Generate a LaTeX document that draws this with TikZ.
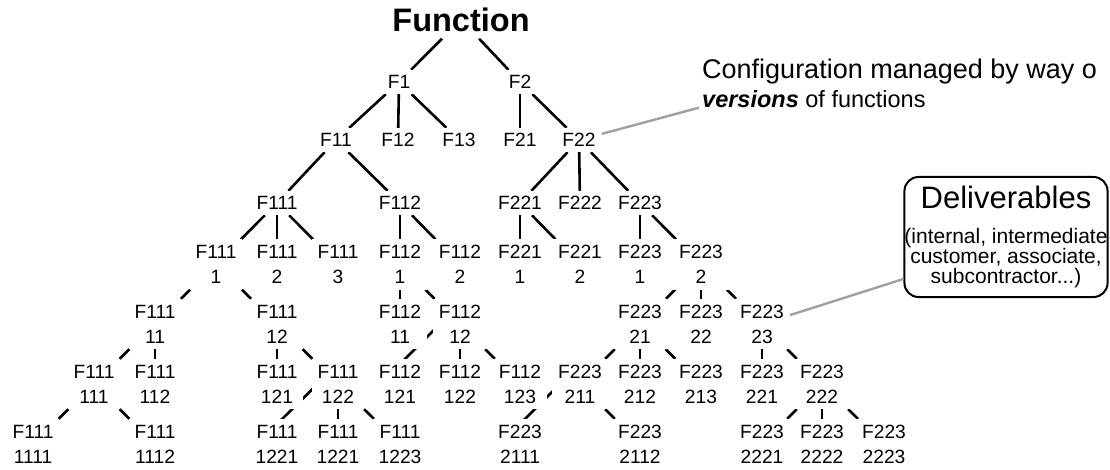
\documentclass[tikz,border=0pt]{standalone}
\usepackage{fontspec}
\setmainfont{Liberation Sans}
\usetikzlibrary{backgrounds}
\definecolor{leadgray}{RGB}{160,160,160}

\begin{document}
\begin{tikzpicture}[x=1pt,y=-1pt,
  lbl/.style={font=\fontsize{19.2}{25}\selectfont, align=center, fill=white,
    inner xsep=6pt, inner ysep=0pt, minimum height=24pt},
  lbltwo/.style={lbl, minimum height=50pt},
  title/.style={font=\fontsize{32.5}{36}\selectfont\bfseries, fill=white,
    inner xsep=3pt, inner ysep=0pt, minimum height=38pt},
  link/.style={line width=2.6pt, black},
  lead/.style={line width=2.4pt, leadgray},
  note/.style={font=\fontsize{27}{29}\selectfont, align=left, anchor=north west, inner sep=0pt},
  delivbox/.style={draw, line width=2pt, rounded corners=14pt, fill=white,
    minimum width=202pt, minimum height=120pt, inner sep=0pt, align=center,
    font=\fontsize{21}{19.5}\selectfont}
]
\useasboundingbox (0,0) rectangle (1110,470);

% title and upper levels
\node[title] (fn) at (461,19.5) {Function};
\node[lbl] (f1) at (399,82) {F1};
\node[lbl] (f2) at (520,82) {F2};
\node[lbl] (f11) at (336,140) {F11};
\node[lbl] (f12) at (398,140) {F12};
\node[lbl] (f13) at (459,140) {F13};
\node[lbl] (f21) at (520,140) {F21};
\node[lbl] (f22) at (579,140) {F22};
\node[lbl] (f111) at (277,203) {F111};
\node[lbl] (f112) at (400,203) {F112};
\node[lbl] (f221) at (520,203) {F221};
\node[lbl] (f222) at (580,203) {F222};
\node[lbl] (f223) at (640,203) {F223};

% level 4
\node[lbltwo] (f1111) at (216,264.5) {F111\\1};
\node[lbltwo] (f1112) at (277,264.5) {F111\\2};
\node[lbltwo] (f1113) at (338,264.5) {F111\\3};
\node[lbltwo] (f1121) at (400,264.5) {F112\\1};
\node[lbltwo] (f1122) at (460,264.5) {F112\\2};
\node[lbltwo] (f2211) at (520,264.5) {F221\\1};
\node[lbltwo] (f2212) at (580,264.5) {F221\\2};
\node[lbltwo] (f2231) at (640,264.5) {F223\\1};
\node[lbltwo] (f2232) at (701,264.5) {F223\\2};

% level 5
\node[lbltwo] (f11111) at (155,324) {F111\\11};
\node[lbltwo] (f11112) at (277,324) {F111\\12};
\node[lbltwo] (f11211) at (400,324) {F112\\11};
\node[lbltwo] (f11212) at (460,324) {F112\\12};
\node[lbltwo] (f22321) at (640,324) {F223\\21};
\node[lbltwo] (f22322) at (701,324) {F223\\22};
\node[lbltwo] (f22323) at (762,324) {F223\\23};

% level 6
\node[lbltwo] (f111111) at (94,384) {F111\\111};
\node[lbltwo] (f111112) at (155,384) {F111\\112};
\node[lbltwo] (f111121) at (277,384) {F111\\121};
\node[lbltwo] (f111122) at (338,384) {F111\\122};
\node[lbltwo] (f112121) at (400,384) {F112\\121};
\node[lbltwo] (f112122) at (460,384) {F112\\122};
\node[lbltwo] (f112123) at (520,384) {F112\\123};
\node[lbltwo] (f223211) at (580,384) {F223\\211};
\node[lbltwo] (f223212) at (640,384) {F223\\212};
\node[lbltwo] (f223213) at (701,384) {F223\\213};
\node[lbltwo] (f223231) at (762,384) {F223\\221};
\node[lbltwo] (f223232) at (822,384) {F223\\222};

% level 7
\node[lbltwo] (f1111111) at (33,444) {F111\\1111};
\node[lbltwo] (f1111112) at (155,444) {F111\\1112};
\node[lbltwo] (f1111221) at (277,444) {F111\\1221};
\node[lbltwo] (f1111222) at (338,444) {F111\\1221};
\node[lbltwo] (f1111223) at (400,444) {F111\\1223};
\node[lbltwo] (f2232111) at (520,444) {F223\\2111};
\node[lbltwo] (f2232112) at (640,444) {F223\\2112};
\node[lbltwo] (f2232321) at (762,444) {F223\\2221};
\node[lbltwo] (f2232322) at (822,444) {F223\\2222};
\node[lbltwo] (f2232323) at (884,444) {F223\\2223};

% annotations
\node[note] (cfg) at (702,58.5) {Configuration managed by way o\\{\fontsize{23.5}{29}\selectfont\textbf{\textit{versions}} of functions}};
\node[delivbox] (deliv) at (1006,237) {{\fontsize{31}{31}\selectfont Deliverables}\\[15pt](internal, intermediate\\customer, associate,\\subcontractor...)};

\draw[lead] (f22) -- ([xshift=-3pt]cfg.south west);
\draw[lead] (f22323) -- ([yshift=-42pt]deliv.west);

% connectors, kept behind the white label boxes
\begin{pgfonlayer}{background}
\foreach \p/\c in {fn/f1, fn/f2,
    f1/f11, f1/f12, f1/f13, f2/f21, f2/f22,
    f11/f111, f11/f112, f22/f221, f22/f222, f22/f223,
    f111/f1111, f111/f1112, f111/f1113, f112/f1121, f112/f1122,
    f221/f2211, f221/f2212, f223/f2231, f223/f2232,
    f1111/f11111, f1111/f11112, f1121/f11211, f1121/f11212,
    f2232/f22321, f2232/f22322, f2232/f22323,
    f11111/f111111, f11111/f111112, f11112/f111121, f11112/f111122,
    f11212/f112122, f11212/f112123,
    f22321/f223211, f22321/f223212, f22321/f223213,
    f22323/f223231, f22323/f223232,
    f111111/f1111111, f111111/f1111112,
    f111122/f1111222, f111122/f1111223,
    f223211/f2232112,
    f223232/f2232321, f223232/f2232322, f223232/f2232323}
  \draw[link] (\p) -- (\c);
% these run from the top of the parent label to the top of the child label
\foreach \p/\c in {f11212/f112121, f111122/f1111221, f223211/f2232111}
  \draw[link] ([yshift=20pt]\p.center) -- ([yshift=20pt]\c.center);
\end{pgfonlayer}
\end{tikzpicture}
\end{document}
